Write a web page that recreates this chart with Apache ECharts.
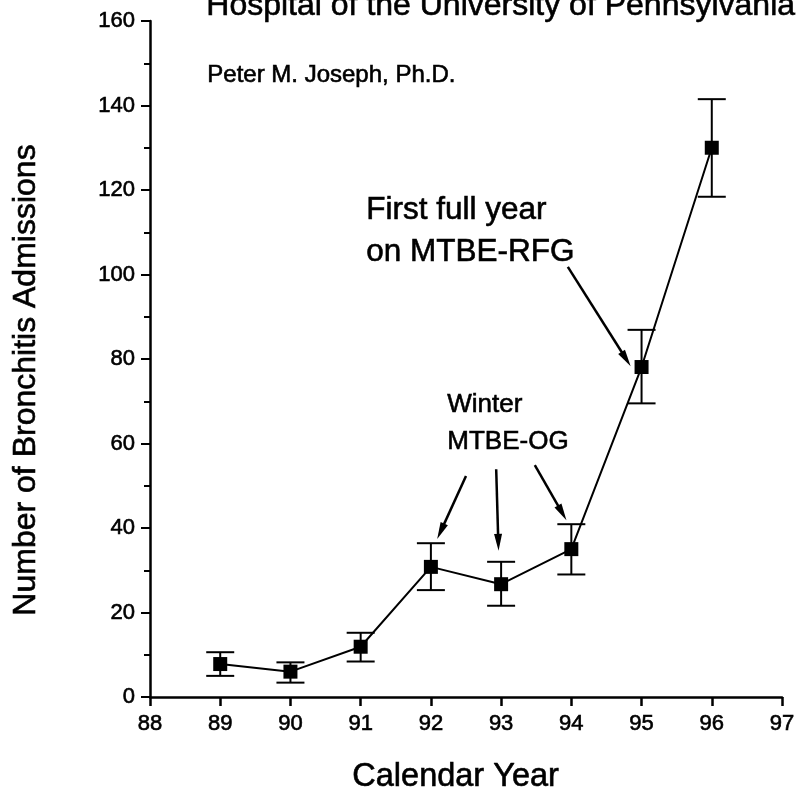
<!DOCTYPE html>
<html>
<head>
<meta charset="utf-8">
<script src="https://cdn.jsdelivr.net/npm/echarts@6/dist/echarts.min.js"></script>
<style>html,body{margin:0;padding:0;background:#fff;}#chart{width:799px;height:793px;}</style>
</head>
<body>
<div id="chart"></div>
<script>
var years = [89, 90, 91, 92, 93, 94, 95, 96];
var admissions = [7.8, 6.0, 11.9, 30.8, 26.7, 35.0, 78.1, 130.0];
var errLow = [5.0, 3.4, 8.4, 25.3, 21.6, 29.0, 69.5, 118.4];
var errHigh = [10.6, 8.2, 15.2, 36.4, 32.0, 40.9, 86.9, 141.5];
var xTicks = { min: 88, max: 97, interval: 1 };
var yTicks = { min: 0, max: 160, interval: 20 };
var titleText = 'Hospital of the University of Pennsylvania';
var authorText = 'Peter M. Joseph, Ph.D.';
var xName = 'Calendar Year';
var yName = 'Number of Bronchitis Admissions';
var noteRFG = ['First full year', 'on MTBE-RFG'];
var noteOG = ['Winter', 'MTBE-OG'];
// annotation arrows in data coordinates [[x0,y0],[x1,y1]]
var arrows = [
  [[93.95, 101.8], [94.78, 80.0]],
  [[92.50, 52.3], [92.14, 39.2]],
  [[92.93, 53.9], [92.96, 36.6]],
  [[93.48, 54.9], [93.87, 43.6]]
];

var FONT = '"Liberation Sans", Arial, Helvetica, sans-serif';
var chart = echarts.init(document.getElementById('chart'), null, { renderer: 'canvas' });

var lineData = years.map(function (y, i) { return [y, admissions[i]]; });
var errData = years.map(function (y, i) { return [y, errLow[i], errHigh[i]]; });

function txt(left, top, text, size) {
  return { type: 'text', left: left, top: top,
    style: { text: text, font: 'normal ' + size + 'px ' + FONT, fill: '#000', stroke: '#000', lineWidth: 0.6 } };
}

chart.setOption({
  animation: false,
  backgroundColor: '#ffffff',
  grid: { left: 150, right: 17, top: 21, bottom: 96, containLabel: false },
  xAxis: {
    type: 'value', min: xTicks.min, max: xTicks.max, interval: xTicks.interval,
    axisLine: { show: true, onZero: false, lineStyle: { color: '#000', width: 2.5 } },
    axisTick: { show: true, length: 9, lineStyle: { color: '#000', width: 2.5 } },
    axisLabel: { color: '#000', fontSize: 22, fontFamily: FONT, margin: 16, textBorderColor: '#000', textBorderWidth: 0.6 },
    splitLine: { show: false }
  },
  yAxis: {
    type: 'value', min: yTicks.min, max: yTicks.max, interval: yTicks.interval,
    axisLine: { show: true, lineStyle: { color: '#000', width: 2.5 } },
    axisTick: { show: true, length: 9, lineStyle: { color: '#000', width: 2 } },
    minorTick: { show: true, splitNumber: 2, length: 6, lineStyle: { color: '#000', width: 2 } },
    axisLabel: { color: '#000', fontSize: 22, fontFamily: FONT, margin: 15, textBorderColor: '#000', textBorderWidth: 0.6 },
    splitLine: { show: false },
    minorSplitLine: { show: false }
  },
  series: [
    {
      type: 'custom',
      data: errData,
      z: 3,
      renderItem: function (params, api) {
        var x = api.value(0);
        var lo = api.coord([x, api.value(1)]);
        var hi = api.coord([x, api.value(2)]);
        var hw = 14;
        var st = { stroke: '#000', lineWidth: 2 };
        return {
          type: 'group',
          children: [
            { type: 'line', shape: { x1: hi[0], y1: hi[1], x2: lo[0], y2: lo[1] }, style: st },
            { type: 'line', shape: { x1: hi[0] - hw, y1: hi[1], x2: hi[0] + hw, y2: hi[1] }, style: st },
            { type: 'line', shape: { x1: lo[0] - hw, y1: lo[1], x2: lo[0] + hw, y2: lo[1] }, style: st }
          ]
        };
      }
    },
    {
      type: 'line',
      data: lineData,
      z: 4,
      symbol: 'rect',
      symbolSize: 14,
      itemStyle: { color: '#000' },
      lineStyle: { color: '#000', width: 2 },
      markLine: {
        silent: true,
        symbol: ['none', 'triangle'],
        symbolSize: [8, 17],
        label: { show: false },
        lineStyle: { color: '#000', width: 2.5, type: 'solid' },
        data: arrows.map(function (a) {
          return [{ coord: a[0] }, { coord: a[1] }];
        })
      }
    }
  ],
  graphic: [
    txt(206, -10, titleText, 32),
    txt(207, 63, authorText, 24),
    txt(366, 194, noteRFG[0], 31.5),
    txt(366, 236, noteRFG[1], 31.5),
    txt(447, 392, noteOG[0], 26),
    txt(447, 429, noteOG[1], 26),
    txt(352, 760, xName, 32.5),
    { type: 'text', x: 26, y: 380, rotation: Math.PI / 2,
      style: { text: yName, font: 'normal 32px ' + FONT, fill: '#000', stroke: '#000', lineWidth: 0.6, textAlign: 'center', textVerticalAlign: 'middle' } }
  ]
});
</script>
</body>
</html>
